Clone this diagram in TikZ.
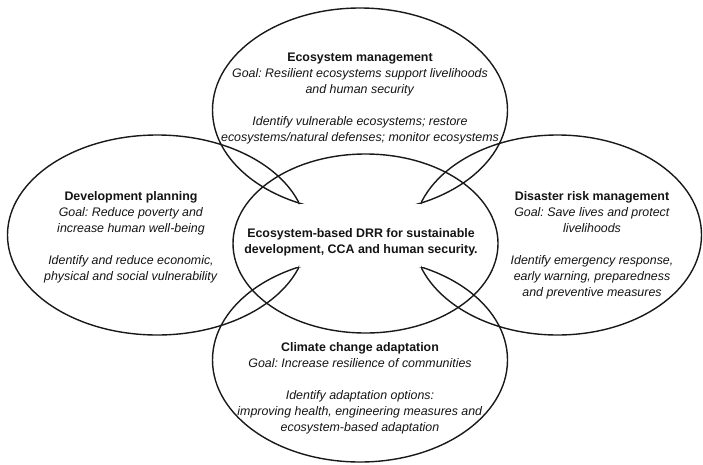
\documentclass[tikz,border=0pt]{standalone}
\usepackage{fontspec}
\setmainfont{Liberation Sans}
\frenchspacing
\tikzset{
  outline/.style={draw=black!90, line width=1.4pt},
  blocktext/.style={align=center, inner sep=0pt, anchor=base, text=black!92,
    font=\fontsize{12.4pt}{16pt}\selectfont\frenchspacing}
}
\begin{document}
\begin{tikzpicture}[x=1pt,y=-1pt]
\useasboundingbox (0,0) rectangle (703,464);
% outer shapes, each an ellipse opened towards the centre
\begin{scope}
  \clip (0,0) rectangle (703,203);
  \draw[outline] (360,110.07) ellipse [x radius=147.5pt, y radius=102.07pt];
\end{scope}
\begin{scope}
  \clip (0,267) rectangle (703,464);
  \draw[outline] (360,359.93) ellipse [x radius=147.5pt, y radius=102.07pt];
\end{scope}
\begin{scope}
  \clip (0,0) rectangle (299,464);
  \draw[outline] (157.19,235) ellipse [x radius=149.69pt, y radius=100pt];
\end{scope}
\begin{scope}
  \clip (421,0) rectangle (703,464);
  \draw[outline] (557.46,235) ellipse [x radius=144.04pt, y radius=100pt];
\end{scope}
% centre ellipse
\draw[outline] (365.5,243.5) ellipse [x radius=132.5pt, y radius=89.5pt];
% texts (anchor base = baseline of the last line)
\node[blocktext] (eco) at (360,141.7) {\textbf{Ecosystem management}\\
  \textit{Goal: Resilient ecosystems support livelihoods}\\
  \textit{and human security}\\[16pt]
  \textit{Identify vulnerable ecosystems; restore}\\
  \textit{ecosystems/natural defenses; monitor ecosystems}};
\node[blocktext] (dev) at (131,280) {\textbf{Development planning}\\
  \textit{Goal: Reduce poverty and}\\
  \textit{increase human well-being}\\[16pt]
  \textit{Identify and reduce economic,}\\
  \textit{physical and social vulnerability}};
\node[blocktext] (drm) at (592,296) {\textbf{Disaster risk management}\\
  \textit{Goal: Save lives and protect}\\
  \textit{livelihoods}\\[16pt]
  \textit{Identify emergency response,}\\
  \textit{early warning, preparedness}\\
  \textit{and preventive measures}};
\node[blocktext] (cca) at (360,431) {\textbf{Climate change adaptation}\\
  \textit{Goal: Increase resilience of communities}\\[16pt]
  \textit{Identify adaptation options:}\\
  \textit{improving health, engineering measures and}\\
  \textit{ecosystem-based adaptation}};
\node[blocktext] (core) at (361,253.5) {\textbf{Ecosystem-based DRR for sustainable}\\
  \textbf{development, CCA and human security.}};
\end{tikzpicture}
\end{document}
